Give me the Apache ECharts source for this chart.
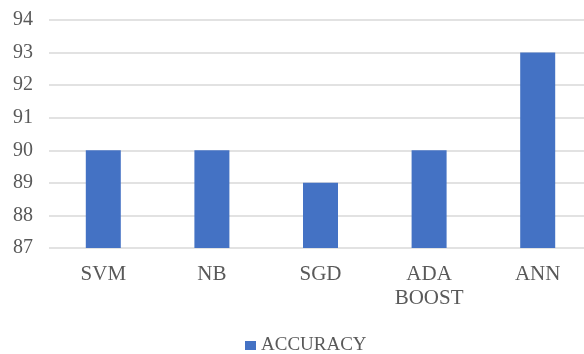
<!DOCTYPE html>
<html>
<head>
<meta charset="utf-8">
<script src="https://cdn.jsdelivr.net/npm/echarts@6/dist/echarts.min.js"></script>
<style>
  html, body { margin: 0; padding: 0; background: #fff; overflow: hidden; }
  #chart { width: 600px; height: 354px; }
</style>
</head>
<body>
<div id="chart"></div>
<script>
// Classifier accuracy comparison
const categories = ['SVM', 'NB', 'SGD', 'ADA\nBOOST', 'ANN'];
const accuracy = [90, 90, 89, 90, 93];
const seriesName = 'ACCURACY';
const yMin = 87, yMax = 94, yStep = 1;

const font = '"Liberation Serif", "Times New Roman", serif';
const textColor = '#595959';

const chart = echarts.init(document.getElementById('chart'));
chart.setOption({
  animation: false,
  backgroundColor: '#ffffff',
  grid: { left: 49, top: 20, width: 543, bottom: 106, containLabel: false },
  legend: {
    data: [seriesName],
    top: 331,
    left: 240,
    itemWidth: 11,
    itemHeight: 9,
    itemGap: 6,
    icon: 'rect',
    textStyle: { fontFamily: font, fontSize: 19, color: textColor, padding: [2, 0, 0, 0] }
  },
  xAxis: {
    type: 'category',
    data: categories,
    axisLine: { show: false },
    axisTick: { show: false },
    axisLabel: {
      fontFamily: font, fontSize: 21, color: textColor,
      margin: 14, lineHeight: 24
    }
  },
  yAxis: {
    type: 'value',
    min: yMin, max: yMax, interval: yStep,
    axisLine: { show: false },
    axisTick: { show: false },
    axisLabel: { fontFamily: font, fontSize: 20, color: textColor, margin: 16 },
    splitLine: { lineStyle: { color: '#d9d9d9', width: 1.5 } }
  },
  series: [{
    name: seriesName,
    type: 'bar',
    data: accuracy,
    barWidth: 35,
    itemStyle: { color: '#4472c4' }
  }]
});
</script>
</body>
</html>
